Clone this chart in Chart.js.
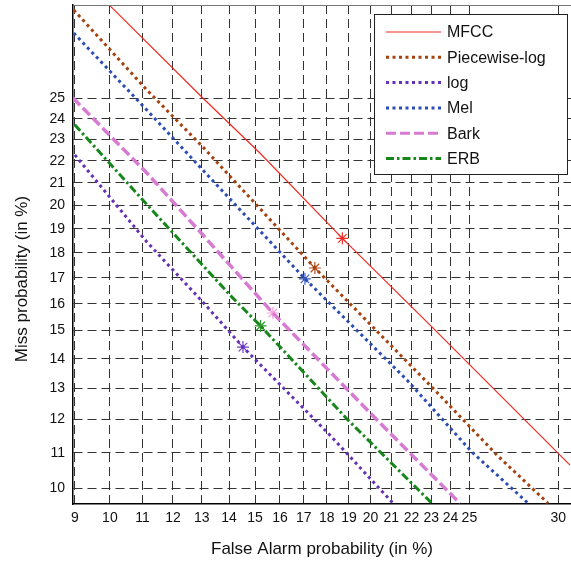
<!DOCTYPE html>
<html>
<head>
<meta charset="utf-8">
<script src="https://cdn.jsdelivr.net/npm/chart.js@4.4.1/dist/chart.umd.min.js"></script>
<style>
  html, body { margin: 0; padding: 0; background: #fff; }
  #wrap { width: 571px; height: 564px; }
</style>
</head>
<body>
<div id="wrap"><canvas id="detChart" width="571" height="564"></canvas></div>
<script>
// DET curve data (percent values)
const xTickValues = [9, 10, 11, 12, 13, 14, 15, 16, 17, 18, 19, 20, 21, 22, 23, 24, 25, 30];
const yTickValues = [10, 11, 12, 13, 14, 15, 16, 17, 18, 19, 20, 21, 22, 23, 24, 25];
const xRange = [8.95, 30.75];
const yRange = [9.57, 29.83];

const seriesNames = ['MFCC', 'Piecewise-log', 'log', 'Mel', 'Bark', 'ERB'];

const mfccFA   = [10.0, 13.0, 15.19, 18.7, 23.08, 26.67, 30.69];
const mfccMiss = [29.8, 25.06, 22.37, 18.6, 15.10, 12.78, 10.64];

const pwlogFA   = [8.97, 11.14, 13.04, 17.48, 23.08, 26.5, 29.4];
const pwlogMiss = [29.56, 25.41, 22.65, 17.39, 13.01, 10.93, 9.59];

const logFA   = [9.0, 11.14, 13.04, 14.53, 18.06, 21.09];
const logMiss = [22.28, 18.45, 16.06, 14.41, 11.58, 9.59];

const melFA   = [8.97, 11.14, 13.04, 17.05, 21.77, 25.13, 28.25];
const melMiss = [28.33, 24.42, 21.58, 16.96, 13.28, 11.02, 9.59];

const barkFA   = [8.95, 11.14, 13.04, 15.71, 20.31, 24.49];
const barkMiss = [25.01, 21.45, 18.74, 15.65, 11.99, 9.59];

const erbFA   = [9.0, 11.01, 14.10, 15.22, 18.95, 23.03];
const erbMiss = [23.70, 20.24, 16.26, 15.17, 11.99, 9.59];

// equal error rate points (stars)
const eerFA   = [18.7, 17.48, 14.53, 17.05, 15.71, 15.22];
const eerMiss = [18.6, 17.39, 14.41, 16.96, 15.65, 15.17];

// inverse normal CDF (Acklam)
function probit(p) {
    const a = [-3.969683028665376e+01, 2.209460984245205e+02, -2.759285104469687e+02, 1.383577518672690e+02, -3.066479806614716e+01, 2.506628277459239e+00];
    const b = [-5.447609879822406e+01, 1.615858368580409e+02, -1.556989798598866e+02, 6.680131188771972e+01, -1.328068155288572e+01];
    const c = [-7.784894002430293e-03, -3.223964580411365e-01, -2.400758277161838e+00, -2.549732539343734e+00, 4.374664141464968e+00, 2.938163982698783e+00];
    const d = [7.784695709041462e-03, 3.224671290700398e-01, 2.445134137142996e+00, 3.754408661907416e+00];
    const pl = 0.02425;
    let q, r;
    if (p < pl) {
        q = Math.sqrt(-2 * Math.log(p));
        return (((((c[0]*q+c[1])*q+c[2])*q+c[3])*q+c[4])*q+c[5]) / ((((d[0]*q+d[1])*q+d[2])*q+d[3])*q+1);
    }
    if (p <= 1 - pl) {
        q = p - 0.5; r = q * q;
        return (((((a[0]*r+a[1])*r+a[2])*r+a[3])*r+a[4])*r+a[5])*q / (((((b[0]*r+b[1])*r+b[2])*r+b[3])*r+b[4])*r+1);
    }
    q = Math.sqrt(-2 * Math.log(1 - p));
    return -(((((c[0]*q+c[1])*q+c[2])*q+c[3])*q+c[4])*q+c[5]) / ((((d[0]*q+d[1])*q+d[2])*q+d[3])*q+1);
}
const pr = v => probit(v / 100);

function toPoints(fa, miss) {
    return fa.map((f, i) => ({ x: pr(f), y: pr(miss[i]) }));
}

const styles = [
    { color: '#f02a20', width: 1.2, dash: [] },
    { color: '#a5420f', width: 3,   dash: [3, 3.5] },
    { color: '#6532b5', width: 3,   dash: [3, 3.5] },
    { color: '#2c4db4', width: 3,   dash: [3, 3.5] },
    { color: '#d77ad2', width: 3.5, dash: [10, 4] },
    { color: '#17871c', width: 3,   dash: [8, 3, 2.5, 3] }
];
const starColors = ['#f0302a', '#b0501f', '#6a3cc0', '#3a5cc6', '#f5a0dc', '#2a9a2a'];

const faLists = [mfccFA, pwlogFA, logFA, melFA, barkFA, erbFA];
const missLists = [mfccMiss, pwlogMiss, logMiss, melMiss, barkMiss, erbMiss];

const datasets = seriesNames.map((name, i) => ({
    type: 'line',
    label: name,
    data: toPoints(faLists[i], missLists[i]),
    borderColor: styles[i].color,
    borderWidth: styles[i].width,
    borderDash: styles[i].dash,
    borderCapStyle: 'butt',
    pointRadius: 0,
    tension: 0,
    fill: false
}));

seriesNames.forEach((name, i) => {
    datasets.push({
        type: 'scatter',
        label: name + ' EER',
        data: [{ x: pr(eerFA[i]), y: pr(eerMiss[i]) }],
        pointStyle: 'star',
        pointRadius: 6,
        borderColor: starColors[i],
        backgroundColor: starColors[i],
        pointBorderWidth: 1.2
    });
});

// legend box drawn inside the plot, top-right
const boxLegend = {
    id: 'boxLegend',
    afterDraw(chart) {
        const ctx = chart.ctx;
        const a = chart.chartArea;
        ctx.save();
        // plot box top edge
        ctx.strokeStyle = '#777';
        ctx.lineWidth = 1;
        ctx.beginPath();
        ctx.moveTo(a.left, a.top + 0.5);
        ctx.lineTo(a.right, a.top + 0.5);
        ctx.stroke();

        const x0 = 374.5, y0 = 14.5, w = 193, h = 160;
        ctx.fillStyle = '#fff';
        ctx.fillRect(x0, y0, w, h);
        ctx.strokeStyle = '#222';
        ctx.lineWidth = 1;
        ctx.strokeRect(x0, y0, w, h);
        ctx.font = '16px "Liberation Sans", Arial, sans-serif';
        ctx.textBaseline = 'middle';
        seriesNames.forEach((name, i) => {
            const y = 32 + i * 25.3;
            const s = styles[i];
            ctx.strokeStyle = s.color;
            ctx.lineWidth = Math.min(s.width, 3);
            ctx.setLineDash(s.dash);
            ctx.lineCap = 'butt';
            ctx.beginPath();
            ctx.moveTo(386, y);
            ctx.lineTo(441, y);
            ctx.stroke();
            ctx.setLineDash([]);
            ctx.fillStyle = '#111';
            ctx.fillText(name, 447, y + 1);
        });

        // y axis title
        ctx.translate(22, 279);
        ctx.rotate(-Math.PI / 2);
        ctx.textAlign = 'center';
        ctx.fillStyle = '#111';
        ctx.font = '17px "Liberation Sans", Arial, sans-serif';
        ctx.fillText('Miss probability (in %)', 0, 0);
        ctx.restore();
    }
};

const gridStyle = {
    color: '#333',
    lineWidth: 1,
    drawTicks: false
};

function noPad(scale) {
    scale.paddingLeft = 0;
    scale.paddingRight = 0;
    scale.paddingTop = 0;
    scale.paddingBottom = 0;
}

new Chart(document.getElementById('detChart'), {
    data: { datasets: datasets },
    options: {
        responsive: false,
        animation: false,
        layout: { autoPadding: false, padding: { top: 5, right: 0, left: 0, bottom: 0 } },
        plugins: {
            legend: { display: false },
            tooltip: { enabled: false }
        },
        scales: {
            x: {
                type: 'linear',
                min: pr(xRange[0]),
                max: pr(xRange[1]),
                afterBuildTicks: scale => {
                    scale.ticks = xTickValues.map(v => ({ value: pr(v) }));
                },
                afterFit: scale => { scale.height = 60; noPad(scale); },
                grid: gridStyle,
                border: { display: true, color: '#000', width: 1.5, dash: [9, 5] },
                ticks: {
                    autoSkip: false,
                    maxRotation: 0,
                    padding: 6,
                    color: '#111',
                    font: { family: '"Liberation Sans", Arial, sans-serif', size: 14 },
                    callback: (value, index) => String(xTickValues[index])
                },
                title: {
                    display: true,
                    text: 'False Alarm probability (in %)',
                    color: '#111',
                    font: { family: '"Liberation Sans", Arial, sans-serif', size: 17 },
                    padding: { top: 14 }
                }
            },
            y: {
                type: 'linear',
                min: pr(yRange[0]),
                max: pr(yRange[1]),
                afterBuildTicks: scale => {
                    scale.ticks = yTickValues.map(v => ({ value: pr(v) }));
                },
                afterFit: scale => { scale.width = 73; noPad(scale); },
                grid: gridStyle,
                border: { display: true, color: '#000', width: 1.5, dash: [9, 5] },
                ticks: {
                    autoSkip: false,
                    padding: 8,
                    color: '#111',
                    font: { family: '"Liberation Sans", Arial, sans-serif', size: 14 },
                    callback: (value, index) => String(yTickValues[index])
                }
            }
        }
    },
    plugins: [boxLegend]
});
</script>
</body>
</html>
